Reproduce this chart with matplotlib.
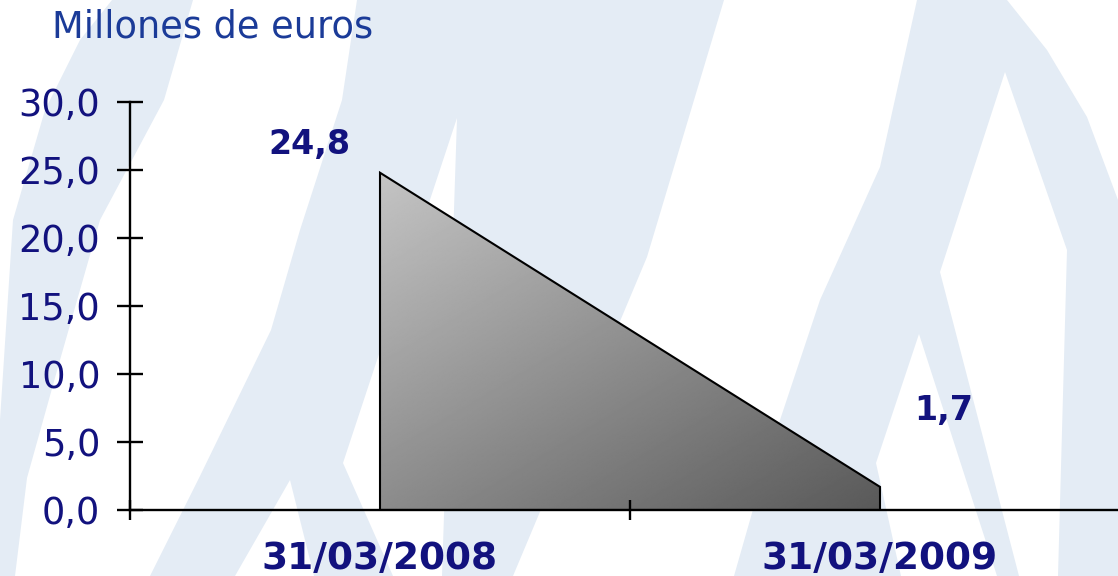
import numpy as np
import matplotlib
matplotlib.use("Agg")
from matplotlib import pyplot as plt
from matplotlib.patches import Polygon

# datos
fechas = ["31/03/2008", "31/03/2009"]
valores = [24.8, 1.7]
etiquetas = ["24,8", "1,7"]
yticks = [0, 5, 10, 15, 20, 25, 30]
ytick_labels = ["0,0", "5,0", "10,0", "15,0", "20,0", "25,0", "30,0"]
titulo = "Millones de euros"

W, H = 1118, 576
AZUL_FONDO = "#e4ecf5"
NAVY = "#12127e"

fig = plt.figure(figsize=(W / 100, H / 100), dpi=100)

# marca de agua de fondo (coordenadas en pixeles)
bg = fig.add_axes([0, 0, 1, 1])
bg.set_xlim(0, W)
bg.set_ylim(H, 0)
bg.axis("off")

azules = [
    # media luna izquierda
    [(0, 576), (0, 420), (13, 220), (45, 110), (80, 40), (112, 0), (193, 0),
     (164, 100), (100, 220), (60, 360), (27, 478), (15, 576)],
    # primera "A"
    [(150, 576), (200, 476), (271, 330), (300, 230), (342, 100), (357, 0),
     (724, 0), (647, 257), (513, 576)],
    # segunda "A"
    [(734, 576), (770, 450), (820, 300), (880, 167), (917, 0), (1007, 0),
     (1047, 50), (1087, 117), (1118, 200), (1118, 576)],
]
blancos = [
    [(457, 118), (343, 463), (393, 576), (442, 576)],
    [(290, 480), (235, 576), (314, 576)],
    [(1005, 72), (940, 272), (1019, 576), (1058, 576), (1067, 250)],
    [(919, 334), (876, 463), (901, 576), (997, 576)],
]
for pts in azules:
    bg.add_patch(Polygon(pts, closed=True, facecolor=AZUL_FONDO, edgecolor="none"))
for pts in blancos:
    bg.add_patch(Polygon(pts, closed=True, facecolor="white", edgecolor="none"))

# grafico principal
ax = fig.add_axes([130 / W, 66 / H, 1000 / W, 408 / H])
ax.patch.set_alpha(0)

x = np.arange(len(valores))
verts = [(x[0], 0)] + list(zip(x, valores)) + [(x[-1], 0)]
area = Polygon(verts, closed=True, facecolor="none", edgecolor="black",
               linewidth=1.5, zorder=3)
ax.add_patch(area)

# degradado gris (claro arriba-izquierda, oscuro abajo-derecha)
nx, ny = 300, 300
gx = np.linspace(x[0], x[-1], nx)
gy = np.linspace(max(valores), 0, ny)
GX, GY = np.meshgrid(gx, gy)
px = 499 * GX
py = 13.6 * (max(valores) - GY)
tono = 196 - 0.1 * px - 0.168 * py
im = ax.imshow(tono, cmap="gray", vmin=0, vmax=255, aspect="auto",
               extent=[x[0], x[-1], 0, max(valores)], zorder=1,
               interpolation="bilinear")
im.set_clip_path(area)

ax.set_xlim(-0.5, 1.5)
ax.set_ylim(0, 30)

for s in ["top", "right"]:
    ax.spines[s].set_visible(False)
for s in ["left", "bottom"]:
    ax.spines[s].set_linewidth(1.7)
    ax.spines[s].set_zorder(4)

ax.set_yticks(yticks)
ax.set_yticklabels(ytick_labels, fontsize=26.5, color=NAVY)
ax.tick_params(axis="y", direction="inout", length=19, width=1.7, pad=12)

ax.set_xticks(x)
ax.set_xticklabels(fechas, fontsize=27, fontweight="bold", color=NAVY)
ax.tick_params(axis="x", which="major", length=0, pad=22)
ax.set_xticks([-0.5, 0.5, 1.5], minor=True)
ax.tick_params(axis="x", which="minor", direction="inout", length=15, width=1.7)

# etiquetas de datos
desplaz = [(-51, 20), (46, 55)]
for xi, v, et, d in zip(x, valores, etiquetas, desplaz):
    ax.annotate(et, (xi, v), xytext=d, textcoords="offset points",
                ha="center", va="center", fontsize=24, fontweight="bold",
                color=NAVY)

fig.text(52 / W, 1 - 38 / H, titulo, fontsize=26.5, color="#1b3b98",
         va="baseline", ha="left")

fig.savefig("out.png", dpi=100)
